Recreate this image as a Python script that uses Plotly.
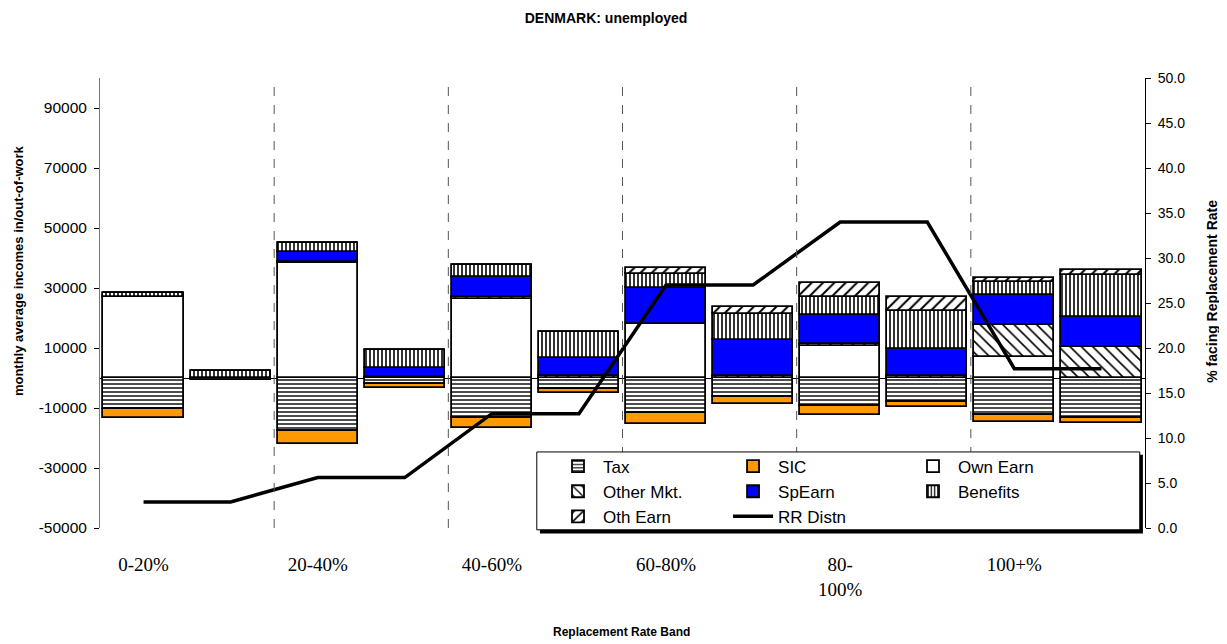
import plotly.graph_objects as go

# replacement-rate bands, two bars per band
bands = ["0-20%", "20-40%", "40-60%", "60-80%", "80-<br>100%", "100+%"]

# monthly average incomes (negative components drawn below zero)
tax = [-10300, -700, -17700, -2000, -13400, -3800, -11800, -6200, -9200, -7900, -12300, -13400]
sic = [-3100, -100, -4300, -1200, -3400, -1300, -3500, -2500, -3100, -1900, -2300, -1700]
own_earn = [27000, 0, 38500, 0, 26400, 0, 18000, 0, 10800, 0, 7100, 0]
other_mkt = [0, 0, 300, 400, 700, 600, 0, 600, 700, 600, 10600, 10400]
sp_earn = [0, 0, 3100, 2800, 6500, 6100, 11900, 12000, 9400, 9200, 10000, 9800]
benefits = [1200, 2300, 3000, 6100, 4100, 8600, 4800, 8900, 6200, 12500, 4200, 14100]
oth_earn = [0, 0, 0, 0, 0, 0, 1900, 2300, 4700, 4700, 1500, 1700]

# % facing replacement rate (right axis)
rr_distn = [2.9, 2.9, 5.6, 5.6, 12.7, 12.7, 27.0, 27.0, 34.0, 34.0, 17.7, 17.7]

left_ticks = list(range(-50000, 100000, 20000))
right_ticks = [i * 5 for i in range(11)]

x = list(range(len(tax)))
ARIAL = "Liberation Sans"

# name, values, colour, pattern, pattern size, solidity, legend column
series = [
    ("Tax", tax, "white", "-", 4, 0.35, "legend"),
    ("SIC", sic, "#ff9900", "", 0, 0, "legend2"),
    ("Own Earn", own_earn, "white", "", 0, 0, "legend3"),
    ("Other Mkt.", other_mkt, "white", "\\", 8, 0.2, "legend"),
    ("SpEarn", sp_earn, "#0000ff", "", 0, 0, "legend2"),
    ("Benefits", benefits, "white", "|", 4, 0.4, "legend3"),
    ("Oth Earn", oth_earn, "white", "/", 8, 0.25, "legend"),
]

fig = go.Figure()
for name, vals, color, shape, size, solid, leg in series:
    marker = dict(color=color, line=dict(color="black", width=1.8))
    if shape:
        marker["pattern"] = dict(shape=shape, size=size, solidity=solid,
                                 fgcolor="black", bgcolor="white", fillmode="replace")
    fig.add_trace(go.Bar(x=x, y=vals, name=name, width=0.92, marker=marker, legend=leg))

fig.add_trace(go.Scatter(x=x, y=rr_distn, name="RR Distn", mode="lines",
                         line=dict(color="black", width=3.5), yaxis="y2", legend="legend2"))

# dashed band separators
for i in range(1, len(bands)):
    fig.add_shape(type="line", xref="x", yref="paper", x0=2 * i - 0.5, x1=2 * i - 0.5,
                  y0=0, y1=1, line=dict(color="#555555", width=1, dash="dash"))

# legend box with shadow
fig.add_shape(type="rect", xref="paper", yref="paper", x0=0.421, x1=0.998, y0=-0.012, y1=0.163,
              fillcolor="black", line=dict(width=0), layer="above")
fig.add_shape(type="rect", xref="paper", yref="paper", x0=0.418, x1=0.995, y0=-0.004, y1=0.169,
              fillcolor="white", line=dict(color="black", width=1), layer="above")

# axis titles placed like the original (not centred on the axis)
fig.add_annotation(text="<b>monthly average incomes in/out-of-work</b>", xref="paper", yref="paper",
                   x=-0.0785, y=0.573, xanchor="center", yanchor="middle", textangle=-90,
                   showarrow=False, font=dict(size=13))
fig.add_annotation(text="<b>% facing Replacement Rate</b>", xref="paper", yref="paper",
                   x=1.0641, y=0.527, xanchor="center", yanchor="middle", textangle=-90,
                   showarrow=False, font=dict(size=14))
fig.add_annotation(text="<b>Replacement Rate Band</b>", xref="paper", yref="paper",
                   x=0.499, y=-0.231, xanchor="center", yanchor="middle",
                   showarrow=False, font=dict(size=12))

leg_style = dict(orientation="v", xanchor="left", yanchor="top", y=0.1765,
                 bgcolor="rgba(0,0,0,0)", borderwidth=0, font=dict(size=17, family=ARIAL),
                 itemwidth=40, traceorder="normal")

# the page body adds an 8px offset, so margins are shifted to compensate
fig.update_layout(
    width=1227, height=644,
    margin=dict(l=92, r=90, t=70, b=124),
    paper_bgcolor="white", plot_bgcolor="white",
    barmode="relative", bargap=0,
    font=dict(family=ARIAL, color="black"),
    title=dict(text="<b>DENMARK: unemployed</b>", x=0.4874, xanchor="center",
               y=1 - 10 / 644, yanchor="middle", font=dict(size=14, family=ARIAL)),
    showlegend=True,
    legend=dict(x=0.4335, **leg_style),
    legend2=dict(x=0.601, **leg_style),
    legend3=dict(x=0.7732, **leg_style),
    xaxis=dict(range=[-0.5, len(x) - 0.5], tickvals=[2 * i for i in range(len(bands))],
               ticktext=bands, ticks="", showline=False, showgrid=False, zeroline=False,
               tickfont=dict(family="Liberation Serif", size=19), ticklabelstandoff=23,
               automargin=False),
    yaxis=dict(range=[-50000, 100000], tickvals=left_ticks, ticktext=[str(v) for v in left_ticks],
               showgrid=False, zeroline=True, zerolinecolor="black", zerolinewidth=1,
               showline=True, linecolor="#777777", linewidth=1, ticks="outside", ticklen=5,
               tickcolor="black", tickfont=dict(size=15.5), ticklabelstandoff=4, automargin=False),
    yaxis2=dict(range=[0, 50], overlaying="y", side="right", tickvals=right_ticks,
                tickformat=".1f", showgrid=False, zeroline=False, showline=True,
                linecolor="black", linewidth=1, ticks="outside", ticklen=5, tickcolor="black",
                tickfont=dict(size=14), ticklabelstandoff=4, automargin=False),
)

fig.write_html("out.html")
